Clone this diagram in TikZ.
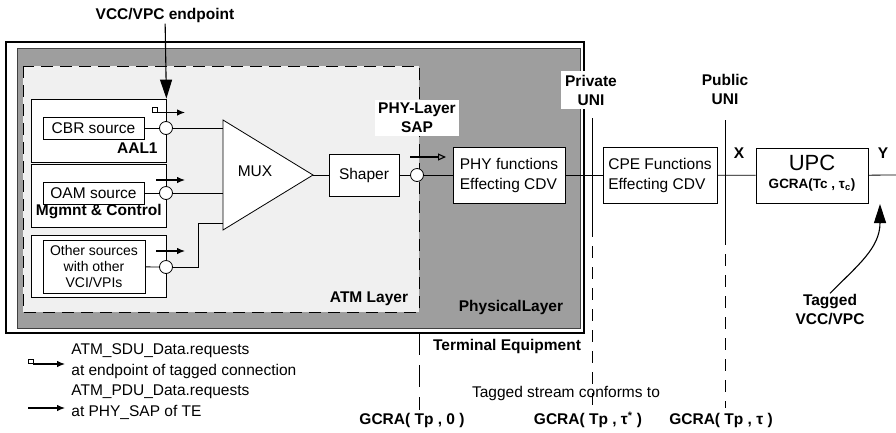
\documentclass[tikz,border=0pt]{standalone}
\usepackage{fontspec}
\setmainfont{Liberation Sans}
\usetikzlibrary{positioning,arrows.meta}
\definecolor{phygray}{gray}{0.62}
\definecolor{atmgray}{gray}{0.94}

\begin{document}
\begin{tikzpicture}[x=1pt, y=-1pt, >=Latex, line width=0.8pt,
    box/.style={draw, fill=white, inner sep=1pt},
    sap/.style={draw, fill=white, circle, minimum size=13pt, inner sep=0pt},
    lbl/.style={font=\fontsize{15.5}{19}\selectfont\bfseries, inner sep=1pt, align=center},
    txt/.style={font=\fontsize{15.5}{20}\selectfont, inner sep=1pt, align=left},
    req/.style={-{Latex[length=8pt,width=6.5pt]}, line width=1.1pt},
    big/.style={-{Triangle[length=19pt,width=12pt]}, line width=1.1pt},
    uni/.style={dash pattern=on 12pt off 9pt}]
  \useasboundingbox (0,0) rectangle (896,432);

  % ---- Terminal equipment, physical and ATM layer
  \draw[line width=1.2pt] (6,42) rectangle (584,333);
  \draw[fill=phygray, draw=black!75] (17,48) rectangle (580,328);
  \draw[fill=atmgray, dash pattern=on 12pt off 7pt, line width=1pt] (23,66) rectangle (419,312);
  \node[lbl] (atm) at (369,299) {ATM Layer};
  \node[lbl] (physl) at (511,307) {PhysicalLayer};
  \node[lbl] (te) at (507,346) {Terminal Equipment};

  % ---- sources
  \node[box, minimum width=135pt, minimum height=63pt] (aal) at (98.5,130.5) {};
  \node[box, minimum width=135pt, minimum height=63pt] (mgmt) at (98.5,195.5) {};
  \node[box, minimum width=135pt, minimum height=62pt] (othbox) at (98.5,266) {};
  \node[box, txt, minimum width=101pt, minimum height=22pt] (cbr) at (93.5,128) {CBR source};
  \node[box, txt, minimum width=101pt, minimum height=22pt] (oam) at (93.5,193) {OAM source};
  \node[box, minimum width=102pt, minimum height=53pt, align=center,
        font=\fontsize{14}{16}\selectfont] (oth) at (94,266.5) {Other sources\\with other\\VCI/VPIs};
  \node[lbl, anchor=east] (aall) at (159,148) {AAL1};
  \node[lbl, anchor=east] (mgl) at (163,212) {Mgmnt \& Control};

  \node[sap] (sapA) at (166,128) {};
  \node[sap] (sapB) at (166,193) {};
  \node[sap] (sapC) at (166,267) {};
  \draw (cbr) -- (sapA);
  \draw (oam) -- (sapB);
  \draw (oth) -- (sapC);

  % ---- MUX and shaper
  \draw[fill=white] (223,120) -- (313,175) -- (223,230) -- cycle;
  \coordinate (muxA) at (223,128);
  \coordinate (muxB) at (223,193);
  \coordinate (muxC) at (223,223);
  \coordinate (muxout) at (313,175);
  \node[txt] (mux) at (255,171) {MUX};
  \draw (sapA) -- (muxA);
  \draw (sapB) -- (muxB);
  \draw (sapC) -- (198,267) |- (muxC);

  \node[box, txt, minimum width=70pt, minimum height=42pt] (shaper) at (364,175) {Shaper};
  \draw (muxout) -- (shaper);
  \node[sap] (physap) at (417,175) {};
  \draw (shaper) -- (physap);
  \node[lbl, fill=white, inner sep=3pt] (sapl) at (417,118) {PHY-Layer\\SAP};

  % ---- requests
  \node[draw, fill=white, minimum size=4.5pt, inner sep=0pt, line width=0.7pt,
        anchor=south east] (sq1) at (157.5,112.5) {};
  \draw[req] (sq1.south east) -- (185,112.5);
  \draw[req] (156,180) -- (185,180);
  \draw[req] (156,251) -- (185,251);
  \draw[-{Triangle[open, length=8pt, width=7pt]}, line width=1.1pt] (410,157) -- (446,157);

  % ---- VCC/VPC endpoint
  \node[lbl] (ep) at (165,15) {VCC/VPC endpoint};
  \draw[big] (ep) -- (aal.north east);

  % ---- PHY, CPE, UPC
  \node[box, txt, minimum width=112pt, minimum height=56pt] (phy) at (509,175) {PHY functions\\Effecting CDV};
  \node[box, txt, minimum width=114pt, minimum height=56pt] (cpe) at (660,175) {CPE Functions\\Effecting CDV};
  \node[box, minimum width=112pt, minimum height=55pt] (upc) at (812,175.5) {};
  \node[font=\fontsize{22}{24}\selectfont, inner sep=0pt] (upct) at (812,163) {UPC};
  \node[font=\fontsize{13.5}{15}\selectfont\bfseries, inner sep=0pt] (upcg) at (812,185) {GCRA(Tc , τ\textsubscript{c})};
  \coordinate (yend) at (896,175);
  \draw (physap) -- (phy);
  \draw (phy) -- (cpe);
  \draw (cpe) -- (upc);
  \draw (upc) -- (yend);
  \node[lbl] (xl) at (739,153) {X};
  \node[lbl] (yl) at (883,153) {Y};

  % ---- UNI reference points
  \node[lbl, fill=white, inner sep=4pt] (priv) at (591,90) {Private\\UNI};
  \node[lbl] (pub) at (725,89) {Public\\UNI};
  \draw (592,118) -- (592,225);
  \draw[uni] (592,225) -- (592,408);
  \draw (725,120) -- (725,233);
  \draw[uni] (725,233) -- (725,408);
  \draw[dash pattern=on 22pt off 10pt] (419,333) -- (419,410);

  % ---- tagged VCC/VPC
  \node[lbl] (tag) at (830,310) {Tagged\\VCC/VPC};
  \draw[big] (tag.north) .. controls (858,265) and (880,248) .. (880,204);

  % ---- legend
  \node[draw, fill=white, minimum size=4.5pt, inner sep=0pt, line width=0.7pt,
        anchor=south west] (sq2) at (28,364) {};
  \draw[req] (sq2.south east) -- (65,364);
  \draw[req] (28,408) -- (65,408);
  \node[txt, anchor=west] (l1) at (70,351) {ATM\_SDU\_Data.requests};
  \node[txt, anchor=west] (l2) at (70,371) {at endpoint of tagged connection};
  \node[txt, anchor=west] (l3) at (70,392) {ATM\_PDU\_Data.requests};
  \node[txt, anchor=west] (l4) at (70,412) {at PHY\_SAP of TE};

  % ---- conformance
  \node[txt] (conf) at (566,393) {Tagged stream conforms to};
  \node[lbl] (g0) at (412,420) {GCRA( Tp , 0 )};
  \node[lbl] (g1) at (588,420) {GCRA( Tp , τ\textsuperscript{*} )};
  \node[lbl] (g2) at (721,420) {GCRA( Tp , τ )};
\end{tikzpicture}
\end{document}
